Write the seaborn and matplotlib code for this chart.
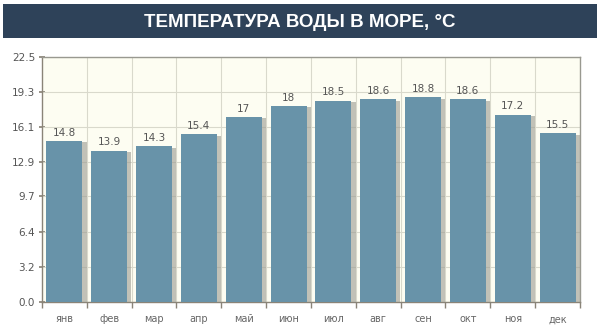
import matplotlib
matplotlib.use("Agg")
import matplotlib.pyplot as plt
import matplotlib.patheffects as pe
import seaborn as sns
import pandas as pd
import numpy as np

months = ["янв", "фев", "мар", "апр", "май", "июн", "июл", "авг", "сен", "окт", "ноя", "дек"]
temps = [14.8, 13.9, 14.3, 15.4, 17, 18, 18.5, 18.6, 18.8, 18.6, 17.2, 15.5]
labels = ["14.8", "13.9", "14.3", "15.4", "17", "18", "18.5", "18.6", "18.8", "18.6", "17.2", "15.5"]
yticks = [0.0, 3.2, 6.4, 9.7, 12.9, 16.1, 19.3, 22.5]
title = "ТЕМПЕРАТУРА ВОДЫ В МОРЕ, °C"

sns.set_theme(style="white")
plt.rcParams['font.family'] = ['DejaVu Sans']

df = pd.DataFrame({"month": months, "temp": temps})

fig = plt.figure(figsize=(6, 3.32), dpi=100)
fig.patch.set_facecolor("white")

# title bar
bar_ax = fig.add_axes([3/600, 1 - 38/332, 594/600, 34/332])
bar_ax.set_facecolor("#2e4259")
bar_ax.set_xticks([]); bar_ax.set_yticks([])
for s in bar_ax.spines.values():
    s.set_visible(False)
bar_ax.text(0.5, 0.47, title, color="white", ha="center", va="center",
            fontsize=13.5, fontweight="bold",
            family=["Liberation Sans Narrow", "Liberation Sans", "DejaVu Sans"],
            transform=bar_ax.transAxes)

ax = fig.add_axes([42/600, 1 - 302/332, 538/600, 245/332])
ax.set_facecolor("#fdfdf2")
sns.barplot(data=df, x="month", y="temp", color="#6893a9", saturation=1,
            width=0.8, ax=ax, zorder=3, linewidth=0, edgecolor="none")
for p in ax.patches:
    p.set_path_effects([pe.SimplePatchShadow(offset=(3, -1), shadow_rgbFace="#9a9a90", alpha=0.6), pe.Normal()])

ax.set_ylim(0, 22.5)
ax.set_xlim(-0.5, 11.5)
ax.set_yticks(yticks)
ax.set_yticklabels([f"{v:.1f}" for v in yticks], color="#555555", fontsize=7.5)
ax.set_xticks(range(len(months)))
ax.set_xticklabels(months, color="#666666", fontsize=7)
ax.set_xlabel(""); ax.set_ylabel("")

for yv in yticks:
    ax.axhline(yv, color="#d9d9cc", lw=0.8, zorder=1)
for xv in np.arange(0.5, 11.5, 1):
    ax.axvline(xv, color="#d9d9cc", lw=0.8, zorder=1)

for i, (v, lab) in enumerate(zip(temps, labels)):
    ax.text(i, v + 0.3, lab, ha="center", va="bottom", fontsize=7.5, color="#555555", zorder=4)

for name, s in ax.spines.items():
    s.set_visible(True)
    s.set_color("#999990")
    s.set_linewidth(1)
ax.spines["left"].set_color("#8a8478")
ax.spines["bottom"].set_color("#8a8478")
ax.tick_params(axis="y", length=4, color="#8a8478", direction="inout", pad=3, left=True)
ax.tick_params(axis="x", length=0, pad=9)
ax.set_xticks(np.arange(-0.5, 12, 1), minor=True)
ax.tick_params(axis="x", which="minor", length=4, color="#8a8478", direction="out", bottom=True)

fig.savefig("out.png", dpi=100)
